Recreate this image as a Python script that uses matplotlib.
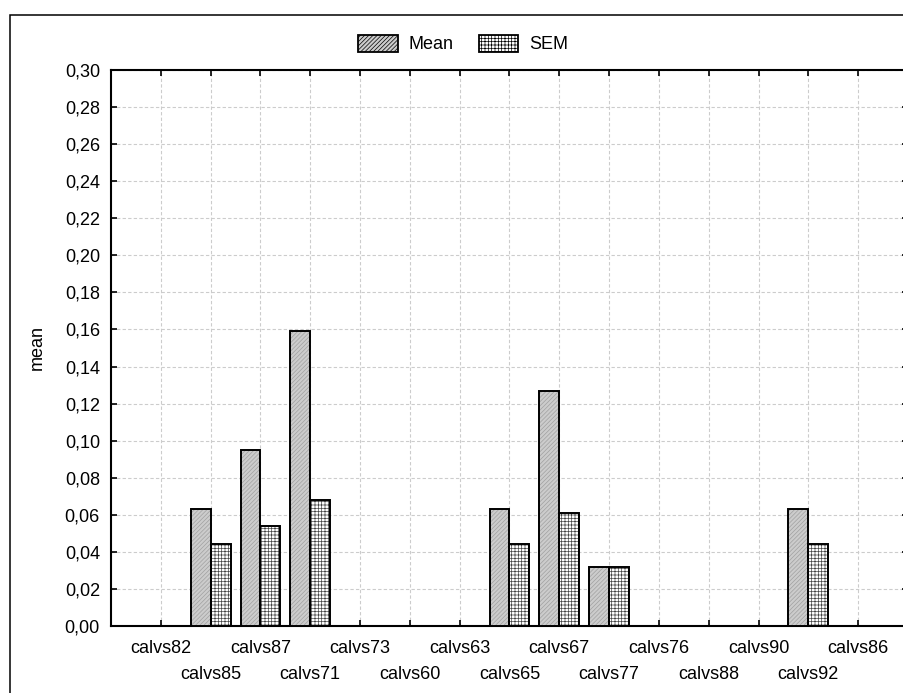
import matplotlib
matplotlib.use("Agg")
import matplotlib.pyplot as plt
from matplotlib.patches import Rectangle, Patch
import numpy as np

categories = ["calvs82", "calvs85", "calvs87", "calvs71", "calvs73", "calvs60", "calvs63",
              "calvs65", "calvs67", "calvs77", "calvs76", "calvs88", "calvs90", "calvs92", "calvs86"]
mean_vals = [0, 0.063, 0.095, 0.159, 0, 0, 0, 0.063, 0.127, 0.032, 0, 0, 0, 0.063, 0]
sem_vals = [0, 0.044, 0.054, 0.068, 0, 0, 0, 0.044, 0.061, 0.032, 0, 0, 0, 0.044, 0]
yticks = [0.00, 0.02, 0.04, 0.06, 0.08, 0.10, 0.12, 0.14, 0.16, 0.18, 0.20, 0.22, 0.24, 0.26, 0.28, 0.30]

FS = 13
plt.rcParams['font.family'] = ['Liberation Sans', 'DejaVu Sans']
plt.rcParams['font.size'] = FS
plt.rcParams['hatch.linewidth'] = 0.5

W, H = 904, 693
fig = plt.figure(figsize=(W / 100, H / 100), dpi=100)

# outer frame
fig.patches.append(Rectangle((10 / W, -0.1), 1.2, 1 - 15 / H + 0.1, transform=fig.transFigure,
                             fill=False, edgecolor='black', linewidth=1.1, zorder=0))

left, top, bottom = 111, 70, 626
ax = fig.add_axes([left / W, (H - bottom) / H, 797 / W, (bottom - top) / H])

x = np.arange(len(categories))
bw = 0.4
# Mean bars: gray with fine diagonal hatch
ax.bar(x - bw / 2, mean_vals, bw, facecolor='#cccccc', edgecolor='#a0a0a0', hatch='////////',
       linewidth=0, zorder=3)
ax.bar(x - bw / 2, mean_vals, bw, facecolor='none', edgecolor='black', linewidth=1.4, zorder=4)
# SEM bars: crosshatch
ax.bar(x + bw / 2, sem_vals, bw, facecolor='white', edgecolor='#444444', hatch='+++++',
       linewidth=0, zorder=3)
ax.bar(x + bw / 2, sem_vals, bw, facecolor='none', edgecolor='black', linewidth=1.4, zorder=4)

ax.set_xlim(-1, len(categories))
ax.set_ylim(0, 0.30)
ax.set_yticks(yticks)
ax.set_yticklabels([f"{v:.2f}".replace('.', ',') for v in yticks])
# alternate label rows: even categories on major ticks, odd on minor ticks
ax.set_xticks(x[::2])
ax.set_xticklabels(categories[::2])
ax.set_xticks(x[1::2], minor=True)
ax.set_xticklabels(categories[1::2], minor=True)
ax.tick_params(axis='x', which='major', direction='in', top=True, bottom=True, length=4, width=1.2, pad=10)
ax.tick_params(axis='x', which='minor', direction='in', top=True, bottom=True, length=4, width=1.2, pad=29)
ax.tick_params(axis='y', direction='in', left=True, right=True, length=4, width=1.2, pad=8)
ax.grid(True, which='both', axis='x', linestyle=(0, (3, 2)), color='#cccccc', linewidth=0.8, zorder=0)
ax.grid(True, which='major', axis='y', linestyle=(0, (3, 2)), color='#cccccc', linewidth=0.8, zorder=0)
ax.set_axisbelow(True)
for s in ax.spines.values():
    s.set_linewidth(1.5)

fig.text(37 / W, 1 - 348 / H, "mean", rotation=90, ha='center', va='center', fontsize=FS)

handles = [Patch(facecolor='#cccccc', edgecolor='black', hatch='////////', linewidth=1.3),
           Patch(facecolor='white', edgecolor='black', hatch='+++++', linewidth=1.3)]
fig.legend(handles, ["Mean", "SEM"], loc='center', bbox_to_anchor=(463 / W, 1 - 44 / H),
           ncol=2, frameon=False, handlelength=2.2, handleheight=1.1, handletextpad=0.6,
           columnspacing=1.4, fontsize=FS)

fig.savefig("out.png", dpi=100)
